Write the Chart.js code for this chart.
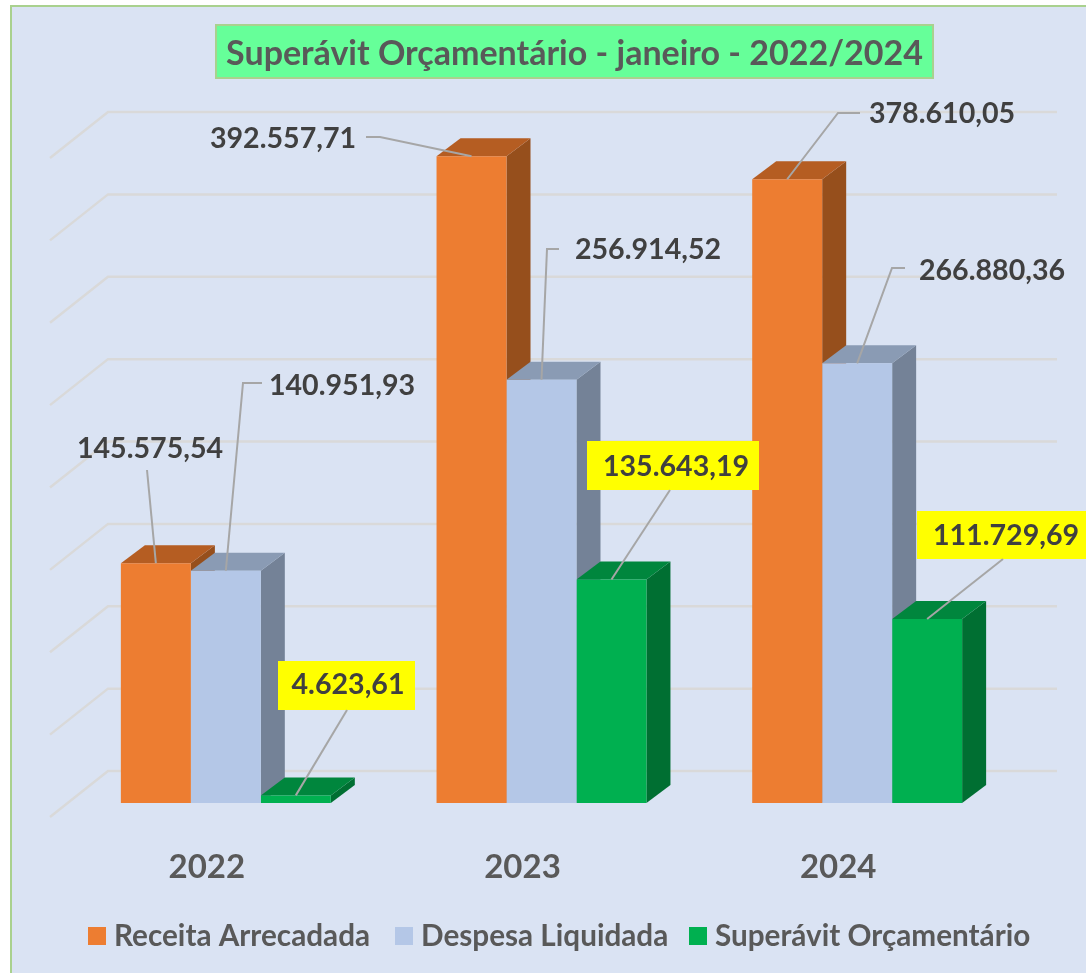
<!DOCTYPE html>
<html lang="pt">
<head>
<meta charset="utf-8">
<title>Superávit Orçamentário</title>
<script src="https://cdn.jsdelivr.net/npm/chart.js@4"></script>
<style>
  html, body { margin: 0; padding: 0; background: #fff; overflow: hidden; }
  #panel { position: absolute; left: 10px; top: 5px; width: 1076px; height: 968px; box-sizing: border-box;
           background: #dae3f3; border-left: 2px solid #a9d18e; border-top: 2px solid #a9d18e; }
  #chart { position: absolute; left: 0; top: 0; }
</style>
</head>
<body>
<div id="panel"></div>
<canvas id="chart" width="1086" height="973"></canvas>
<script>
// Data
const chartTitle = 'Superávit Orçamentário - janeiro - 2022/2024';
const years = ['2022', '2023', '2024'];
const receita = [145575.54, 392557.71, 378610.05];
const despesa = [140951.93, 256914.52, 266880.36];
const superavit = [4623.61, 135643.19, 111729.69];
const seriesNames = ['Receita Arrecadada', 'Despesa Liquidada', 'Superávit Orçamentário'];

// Colours: front, top and side face of each series
const faces = [
    { front: '#ed7d31', top: '#b55d22', side: '#964f1c' },
    { front: '#b4c7e7', top: '#8a9bb4', side: '#748297' },
    { front: '#00b050', top: '#00863d', side: '#006f32' }
];

const FONT = 'Lato, "Open Sans", sans-serif';
const DEPTH_X = 24, DEPTH_Y = 18;

// Where each value label sits, and the leader line from it: [series][year]
const labelSpots = [
    [{ x: 150, y: 449, line: [[147, 470]] },
     { x: 283, y: 139, line: [[366, 137], [380, 137]] },
     { x: 942, y: 114, line: [[860, 113], [838, 113]] }],
    [{ x: 342, y: 386, line: [[262, 383], [243, 383]] },
     { x: 648, y: 250, line: [[559, 249], [547, 249]] },
     { x: 992, y: 271, line: [[905, 268], [892, 268]] }],
    [{ x: 348, y: 685, line: [[347, 710]], box: [278, 661, 137, 49] },
     { x: 676, y: 467, line: [[670, 490]], box: [587, 441, 172, 49] },
     { x: 1006, y: 536, line: [[1003, 559]], box: [917, 511, 169, 48] }]
];

function valueText(v) {
    return v.toLocaleString('pt-BR', { minimumFractionDigits: 2, maximumFractionDigits: 2 });
}

// Perspective wall lines behind the bars
const wallPlugin = {
    id: 'wall',
    beforeDatasetsDraw(chart) {
        const { ctx, scales } = chart;
        ctx.save();
        ctx.strokeStyle = '#d9d9d9';
        ctx.lineWidth = 2.5;
        scales.y.ticks.forEach(t => {
            const y = scales.y.getPixelForValue(t.value);
            ctx.beginPath();
            ctx.moveTo(50, y + 14);
            ctx.lineTo(108, y - 32);
            ctx.lineTo(1057, y - 32);
            ctx.stroke();
        });
        ctx.restore();
    }
};

// Side and top faces, the front face is the normal Chart.js bar
const depthPlugin = {
    id: 'depth',
    beforeDatasetsDraw(chart) {
        const { ctx } = chart;
        years.forEach((yr, i) => {
            chart.data.datasets.forEach((ds, s) => {
                const bar = chart.getDatasetMeta(s).data[i];
                const l = bar.x - bar.width / 2, r = bar.x + bar.width / 2;
                const t = bar.y, b = bar.base;
                ctx.fillStyle = faces[s].side;
                ctx.beginPath();
                ctx.moveTo(r, t);
                ctx.lineTo(r + DEPTH_X, t - DEPTH_Y);
                ctx.lineTo(r + DEPTH_X, b - DEPTH_Y);
                ctx.lineTo(r, b);
                ctx.closePath();
                ctx.fill();
                ctx.fillStyle = faces[s].top;
                ctx.beginPath();
                ctx.moveTo(l, t);
                ctx.lineTo(l + DEPTH_X, t - DEPTH_Y);
                ctx.lineTo(r + DEPTH_X, t - DEPTH_Y);
                ctx.lineTo(r, t);
                ctx.closePath();
                ctx.fill();
            });
        });
    }
};

// Title box, value labels with leader lines, legend
const textPlugin = {
    id: 'texts',
    afterDatasetsDraw(chart) {
        const { ctx } = chart;
        ctx.save();

        ctx.fillStyle = '#66ff99';
        ctx.strokeStyle = '#a9d18e';
        ctx.lineWidth = 2;
        ctx.fillRect(216, 25, 717, 53);
        ctx.strokeRect(216, 25, 717, 53);
        ctx.fillStyle = '#595959';
        ctx.font = 'bold 34px ' + FONT;
        ctx.textAlign = 'center';
        ctx.textBaseline = 'middle';
        ctx.fillText(chartTitle, 574.5, 54);

        ctx.font = 'bold 28.6px ' + FONT;
        chart.data.datasets.forEach((ds, s) => {
            ds.data.forEach((v, i) => {
                const spot = labelSpots[s][i];
                const bar = chart.getDatasetMeta(s).data[i];
                if (spot.box) {
                    ctx.fillStyle = '#ffff00';
                    ctx.fillRect(spot.box[0], spot.box[1], spot.box[2], spot.box[3]);
                }
                ctx.strokeStyle = '#a6a6a6';
                ctx.lineWidth = 2;
                ctx.beginPath();
                spot.line.forEach((p, k) => k ? ctx.lineTo(p[0], p[1]) : ctx.moveTo(p[0], p[1]));
                ctx.lineTo(bar.x, bar.y);
                ctx.stroke();
                ctx.fillStyle = '#404040';
                ctx.fillText(valueText(v), spot.x, spot.y);
            });
        });

        ctx.font = 'bold 29.7px ' + FONT;
        ctx.textAlign = 'left';
        const legendX = [88, 395, 689];
        seriesNames.forEach((name, s) => {
            ctx.fillStyle = faces[s].front;
            ctx.fillRect(legendX[s], 927, 18, 18);
            ctx.fillStyle = '#595959';
            ctx.fillText(name, legendX[s] + 26, 936);
        });
        ctx.restore();
    }
};

new Chart(document.getElementById('chart'), {
    type: 'bar',
    data: {
        labels: years,
        datasets: [receita, despesa, superavit].map((values, s) => ({
            label: seriesNames[s],
            data: values,
            backgroundColor: faces[s].front,
            borderWidth: 0,
            barPercentage: 1,
            categoryPercentage: 0.665
        }))
    },
    options: {
        responsive: false,
        animation: false,
        layout: { padding: { left: 68, right: 71, top: 144, bottom: 70 } },
        plugins: { legend: { display: false }, title: { display: false }, tooltip: { enabled: false } },
        scales: {
            x: {
                afterFit(scale) { scale.height = 100; },
                grid: { display: false },
                border: { display: false },
                ticks: {
                    color: '#595959',
                    font: { family: FONT, size: 33, weight: 'bold' },
                    padding: 37,
                    labelOffset: -19,
                    maxRotation: 0
                }
            },
            y: {
                display: false,
                min: 0,
                max: 400000,
                ticks: { stepSize: 50000 }
            }
        }
    },
    plugins: [wallPlugin, depthPlugin, textPlugin]
});
</script>
</body>
</html>
